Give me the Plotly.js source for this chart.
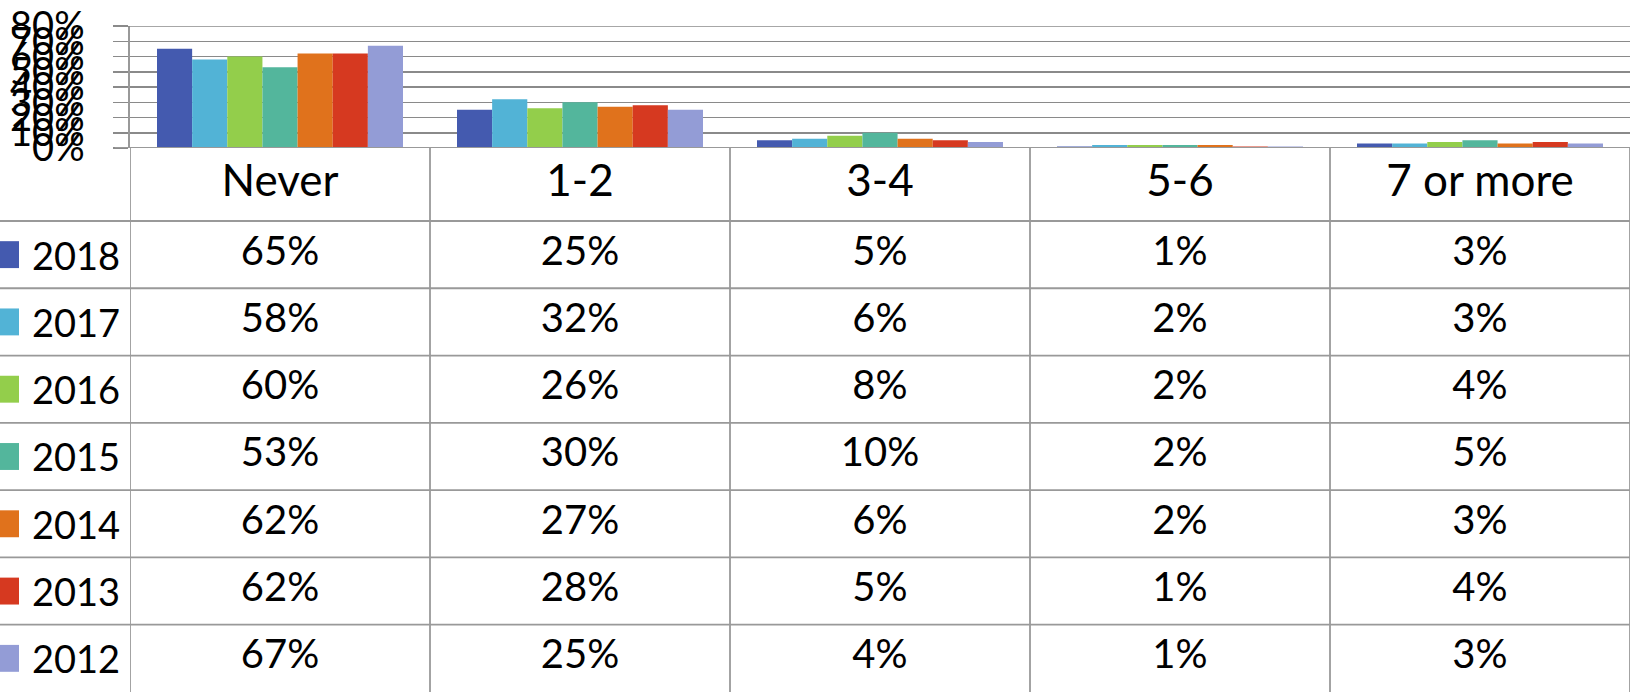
<!DOCTYPE html>
<html>
<head>
<meta charset="utf-8">
<script src="https://cdn.plot.ly/plotly-3.0.1.min.js"></script>
<style>html,body{margin:0;padding:0;background:#fff;}#chart{width:1635px;height:692px;}</style>
</head>
<body>
<div id="chart"></div>
<script>
const categories = ["Never", "1-2", "3-4", "5-6", "7 or more"];
const years = ["2018", "2017", "2016", "2015", "2014", "2013", "2012"];
const v2018 = [65, 25, 5, 1, 3];
const v2017 = [58, 32, 6, 2, 3];
const v2016 = [60, 26, 8, 2, 4];
const v2015 = [53, 30, 10, 2, 5];
const v2014 = [62, 27, 6, 2, 3];
const v2013 = [62, 28, 5, 1, 4];
const v2012 = [67, 25, 4, 1, 3];
const yTickVals = [0, 0.1, 0.2, 0.3, 0.4, 0.5, 0.6, 0.7, 0.8];
const yTickText = ["0%", "10%", "20%", "30%", "40%", "50%", "60%", "70%", "80%"];

const seriesValues = [v2018, v2017, v2016, v2015, v2014, v2013, v2012];
const colors = ["#445AAF", "#52B3D6", "#93CE4B", "#53B69C", "#E0721C", "#D63920", "#939CD6"];

const W = 1635, H = 692;
const plotLeft = 130, plotRight = 1630, plotTop = 26, plotBottom = 148;
const FONT = "Lato, 'Open Sans', sans-serif";
const lineCol = "#999999";
const gridCol = "#8a8a8a";

const traces = [];
seriesValues.forEach((vals, s) => {
  traces.push({
    type: "bar",
    name: years[s],
    x: categories,
    y: vals.map(v => v / 100),
    marker: {color: colors[s], line: {width: 0}},
    xaxis: "x", yaxis: "y",
    showlegend: false,
    hoverinfo: "skip"
  });
});

// table cell values
const tx = [], ty = [], tt = [];
seriesValues.forEach((vals, s) => {
  vals.forEach((v, c) => { tx.push(c); ty.push(s + 0.5); tt.push(v + "%"); });
});
traces.push({
  type: "scatter", mode: "text", x: tx, y: ty, text: tt,
  textposition: "middle center",
  textfont: {family: FONT, size: 40, color: "#000"},
  xaxis: "x2", yaxis: "y2", showlegend: false, hoverinfo: "skip", cliponaxis: false
});
// header row
const headerH = 73 / 67.3;
traces.push({
  type: "scatter", mode: "text",
  x: categories.map((c, i) => i),
  y: categories.map(() => -headerH / 2),
  text: categories,
  textposition: "middle center",
  textfont: {family: FONT, size: 44, color: "#000"},
  xaxis: "x2", yaxis: "y2", showlegend: false, hoverinfo: "skip", cliponaxis: false
});

const shapes = [];
const annotations = [];
const xr = plotRight / W;
// vertical lines of the table
for (let i = 0; i <= categories.length; i++) {
  shapes.push({type: "line", xref: "x2", yref: "y2", x0: i - 0.5, x1: i - 0.5,
    y0: -headerH, y1: years.length, line: {color: lineCol, width: 1.8}});
}
// horizontal lines between rows
for (let s = 0; s < years.length; s++) {
  shapes.push({type: "line", xref: "paper", yref: "y2", x0: 0, x1: xr,
    y0: s, y1: s, line: {color: lineCol, width: 1.8}});
}
// axis baseline and top gridline
shapes.push({type: "line", xref: "paper", yref: "y", x0: 115 / W, x1: xr, y0: 0, y1: 0,
  line: {color: lineCol, width: 1.8}});
shapes.push({type: "line", xref: "paper", yref: "y", x0: 115 / W, x1: xr, y0: 0.8, y1: 0.8,
  line: {color: gridCol, width: 1.5}});
// legend keys + labels
years.forEach((yr, s) => {
  shapes.push({type: "rect", xref: "paper", yref: "y2", x0: -8 / W, x1: 19 / W,
    y0: s + 0.5 - 0.2, y1: s + 0.5 + 0.2, fillcolor: colors[s], line: {width: 0}});
  annotations.push({xref: "paper", yref: "y2", x: 30 / W, y: s + 0.5, text: yr,
    showarrow: false, xanchor: "left", yanchor: "middle",
    font: {family: FONT, size: 38, color: "#000"}});
});

const layout = {
  width: W, height: H,
  margin: {l: 0, r: 0, t: 0, b: 0, pad: 0},
  paper_bgcolor: "#fff", plot_bgcolor: "#fff",
  barmode: "group", bargap: 0.18, bargroupgap: 0,
  showlegend: false,
  xaxis: {
    domain: [plotLeft / W, plotRight / W], anchor: "y",
    type: "category", range: [-0.5, 4.5],
    showticklabels: false, ticks: "", showgrid: false, zeroline: false, showline: false, fixedrange: true
  },
  yaxis: {
    domain: [(H - plotBottom) / H, (H - plotTop) / H], anchor: "x",
    range: [0, 0.8], tickvals: yTickVals, ticktext: yTickText,
    ticks: "outside", ticklen: 15, tickwidth: 1.5, tickcolor: gridCol,
    showgrid: true, gridcolor: gridCol, gridwidth: 1.5,
    zeroline: false, showline: true, linecolor: lineCol, linewidth: 1.8,
    tickfont: {family: FONT, size: 38, color: "#000"},
    ticklabelstandoff: 21, fixedrange: true
  },
  xaxis2: {
    domain: [plotLeft / W, plotRight / W], anchor: "y2",
    range: [-0.5, 4.5], showticklabels: false, ticks: "", showgrid: false, zeroline: false, showline: false
  },
  yaxis2: {
    domain: [0, (H - plotBottom) / H], anchor: "x2",
    range: [years.length, -headerH], showticklabels: false, ticks: "", showgrid: false, zeroline: false, showline: false
  },
  shapes: shapes,
  annotations: annotations
};

Plotly.newPlot("chart", traces, layout, {displayModeBar: false, staticPlot: true});
</script>
</body>
</html>
